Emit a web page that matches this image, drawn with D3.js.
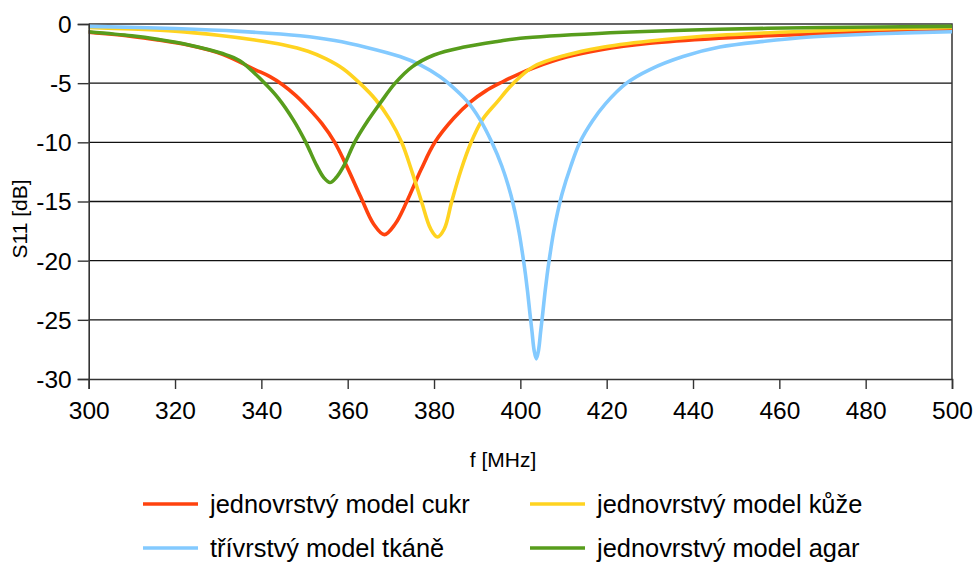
<!DOCTYPE html>
<html>
<head>
<meta charset="utf-8">
<script src="https://cdn.jsdelivr.net/npm/d3@7/dist/d3.min.js"></script>
<style>
  html, body { margin: 0; padding: 0; background: #fff; }
  svg { display: block; font-family: "Liberation Sans", Arial, sans-serif; }
</style>
</head>
<body>
<svg id="chart" width="977" height="563"></svg>
<script>
// S11 reflection of the antenna for the four phantom models, f in MHz, S11 in dB
const cukrF   = [300, 310, 316, 323, 331, 338.5, 342, 345, 348, 351, 354, 357, 360, 363, 366, 368.5, 371, 373.7, 377, 380.2, 384.6, 388.4, 392, 395.8, 399.5, 403, 410.7, 418.4, 430, 446, 471, 500];
const cukrS11 = [-0.70, -1.05, -1.35, -1.78, -2.56, -3.85, -4.45, -5.15, -6.05, -7.15, -8.4, -10.0, -12.2, -14.6, -16.9, -17.8, -16.9, -15.0, -12.3, -10.0, -7.95, -6.6, -5.65, -4.9, -4.25, -3.72, -2.8, -2.2, -1.63, -1.21, -0.79, -0.57];

const kuzeF   = [300, 310, 320, 330, 338.5, 345, 350.8, 355, 359, 362.8, 366.5, 369.8, 372.5, 375, 377.1, 379.2, 380.8, 382.4, 384.1, 386.2, 388.6, 391.2, 394.6, 398.4, 403, 410.7, 418.4, 430, 441.6, 460, 480, 500];
const kuzeS11 = [-0.30, -0.42, -0.60, -0.95, -1.35, -1.75, -2.3, -2.95, -3.8, -5.0, -6.4, -8.1, -10.0, -12.6, -15.0, -17.3, -18.0, -17.3, -15.0, -12.4, -10.0, -8.1, -6.6, -5.0, -3.61, -2.62, -2.0, -1.44, -1.05, -0.70, -0.45, -0.30];

const tkaneF   = [300, 320, 335, 349, 357, 364.4, 372.1, 376.8, 381.4, 383.3, 387.6, 390.7, 393.4, 395.7, 397.7, 398.7, 399.7, 400.7, 401.2, 401.7, 402.2, 402.7, 403.2, 403.7, 404.2, 404.7, 405.2, 405.7, 406.2, 406.7, 407.7, 408.7, 409.7, 411.7, 413.8, 416.7, 419.7, 424.6, 430, 437.7, 446.2, 457.1, 464.8, 472.4, 485, 500];
const tkaneS11 = [-0.20, -0.38, -0.62, -1.0, -1.4, -1.98, -2.75, -3.45, -4.45, -5.0, -6.5, -8.1, -10.0, -12.0, -14.3, -15.8, -17.6, -19.9, -21.2, -22.7, -24.4, -26.0, -27.6, -28.3, -27.6, -26.0, -24.4, -22.7, -21.2, -19.9, -17.6, -15.8, -14.3, -12.0, -10.0, -8.2, -6.75, -5.0, -3.85, -2.75, -1.95, -1.44, -1.16, -0.99, -0.8, -0.65];

const agarF   = [300, 310, 316, 323, 331, 335, 340.5, 344, 347.4, 350.3, 352.8, 354.5, 355.9, 357.3, 359, 361.6, 364.8, 367.5, 371, 375, 380, 387, 395, 400, 418, 446, 470, 500];
const agarS11 = [-0.65, -1.0, -1.3, -1.75, -2.5, -3.1, -4.9, -6.3, -8.1, -10.0, -11.95, -13.0, -13.4, -13.0, -12.06, -10.0, -8.1, -6.7, -5.0, -3.6, -2.62, -1.95, -1.45, -1.2, -0.8, -0.45, -0.3, -0.2];

const seriesNames = ["jednovrstvý model cukr", "jednovrstvý model kůže", "třívrstvý model tkáně", "jednovrstvý model agar"];
const seriesColors = ["#ff420e", "#ffd320", "#83caff", "#579d1c"];

const xTicks = [300, 320, 340, 360, 380, 400, 420, 440, 460, 480, 500];
const yTicks = [0, -5, -10, -15, -20, -25, -30];
const xTitle = "f [MHz]";
const yTitle = "S11 [dB]";

const series = [
  { name: seriesNames[0], color: seriesColors[0], f: cukrF,  v: cukrS11 },
  { name: seriesNames[1], color: seriesColors[1], f: kuzeF,  v: kuzeS11 },
  { name: seriesNames[2], color: seriesColors[2], f: tkaneF, v: tkaneS11 },
  { name: seriesNames[3], color: seriesColors[3], f: agarF,  v: agarS11 }
];

const svg = d3.select("#chart");
const plot = { left: 88.7, right: 952, top: 24, bottom: 379 };

const x = d3.scaleLinear().domain([300, 500]).range([plot.left, plot.right]);
const y = d3.scaleLinear().domain([-30, 0]).range([plot.bottom, plot.top]);

// horizontal grid
svg.append("g")
  .selectAll("line")
  .data(yTicks.filter(t => t !== 0 && t !== -30))
  .join("line")
  .attr("x1", plot.left).attr("x2", plot.right)
  .attr("y1", d => y(d)).attr("y2", d => y(d))
  .attr("stroke", "#111").attr("stroke-width", 1.3);

// plot frame: top and right edges
svg.append("path")
  .attr("d", `M${plot.left},${plot.top}H${plot.right}V${plot.bottom}`)
  .attr("fill", "none").attr("stroke", "#333").attr("stroke-width", 1.5);

// curves
const line = d3.line()
  .x(d => x(d[0]))
  .y(d => y(d[1]))
  .curve(d3.curveCatmullRom.alpha(0.5));

svg.append("clipPath").attr("id", "plotclip")
  .append("rect")
  .attr("x", plot.left).attr("y", plot.top - 3)
  .attr("width", plot.right - plot.left).attr("height", plot.bottom - plot.top + 6);

svg.append("g").attr("clip-path", "url(#plotclip)")
  .selectAll("path")
  .data(series)
  .join("path")
  .attr("d", s => line(s.f.map((f, i) => [f, s.v[i]])))
  .attr("fill", "none")
  .attr("stroke", s => s.color)
  .attr("stroke-width", 3.6)
  .attr("stroke-linejoin", "round")
  .attr("stroke-linecap", "round");

// axes
const xAxis = d3.axisBottom(x).tickValues(xTicks).tickSize(10).tickPadding(13).tickFormat(d => String(d));
const yAxis = d3.axisLeft(y).tickValues(yTicks).tickSize(11).tickPadding(6).tickFormat(d => String(d));

const gx = svg.append("g").attr("transform", `translate(0,${plot.bottom})`).call(xAxis);
const gy = svg.append("g").attr("transform", `translate(${plot.left},0)`).call(yAxis);

[gx, gy].forEach(g => {
  g.select(".domain").attr("stroke", "#333").attr("stroke-width", 1.6);
  g.selectAll(".tick line").attr("stroke", "#333").attr("stroke-width", 1.4);
  g.selectAll(".tick text")
    .attr("fill", "#000")
    .style("font-family", "'Liberation Sans', Arial, sans-serif")
    .style("font-size", "24.5px");
});
gy.selectAll(".tick text").attr("dy", "0.34em");
gx.selectAll(".tick text").attr("dy", "0.71em");

// axis titles
svg.append("text")
  .attr("x", 503).attr("y", 467)
  .attr("text-anchor", "middle")
  .style("font-size", "21px")
  .attr("fill", "#000")
  .text(xTitle);

svg.append("text")
  .attr("transform", "translate(27,219) rotate(-90)")
  .attr("text-anchor", "middle")
  .style("font-size", "21px")
  .attr("fill", "#000")
  .text(yTitle);

// legend, two columns by two rows
const legendPos = [
  { lx: 143, ty: 504 },
  { lx: 530, ty: 504 },
  { lx: 143, ty: 548 },
  { lx: 530, ty: 548 }
];
const legend = svg.append("g")
  .selectAll("g")
  .data(series)
  .join("g")
  .attr("transform", (s, i) => `translate(${legendPos[i].lx},${legendPos[i].ty})`);

legend.append("line")
  .attr("x1", 0).attr("x2", 55)
  .attr("stroke", s => s.color)
  .attr("stroke-width", 3.6);

legend.append("text")
  .attr("x", 67).attr("y", 0).attr("dy", "0.35em")
  .style("font-size", "25.4px")
  .attr("fill", "#000")
  .text(s => s.name);
</script>
</body>
</html>
